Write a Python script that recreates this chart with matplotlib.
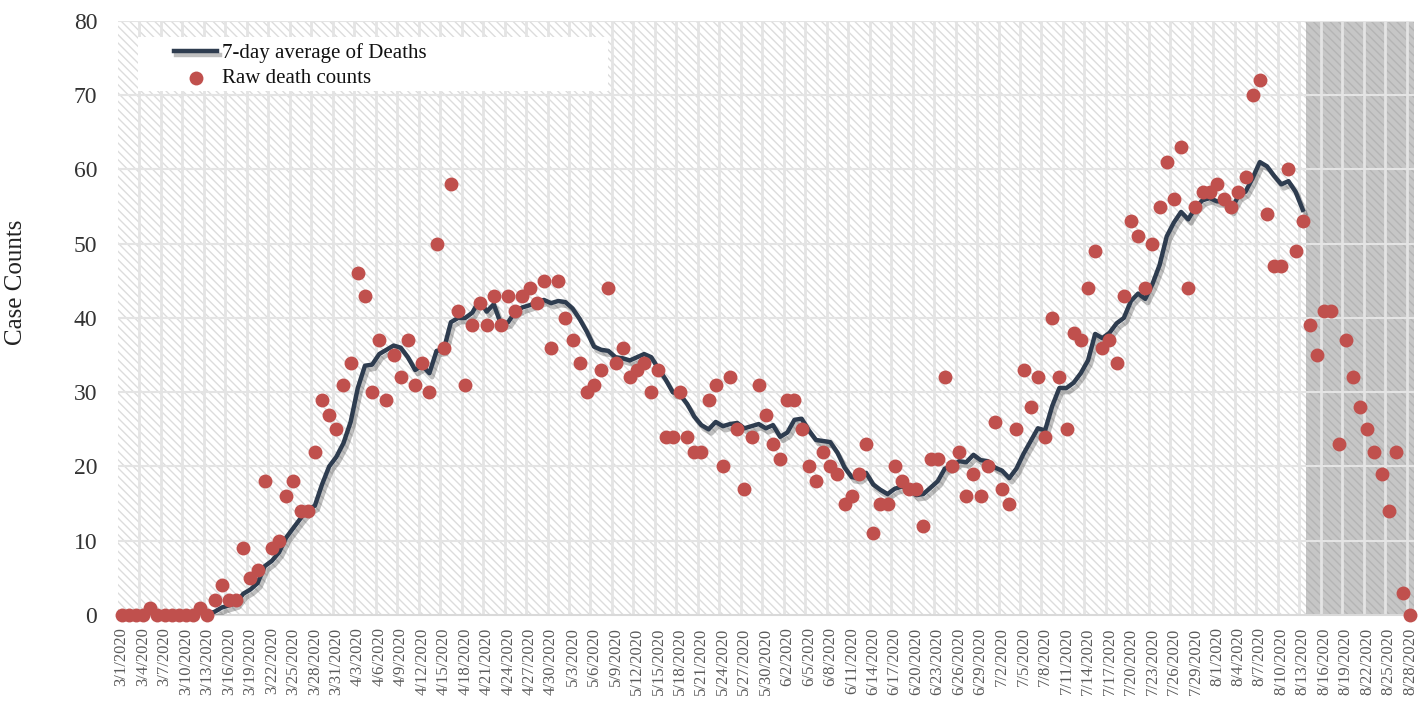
import numpy as np
import pandas as pd
import matplotlib
matplotlib.use("Agg")
import matplotlib.pyplot as plt
import matplotlib.patheffects as pe
from matplotlib.patches import Rectangle

# daily raw deaths, 3/1/2020 .. 8/28/2020
dates = pd.date_range("2020-03-01", "2020-08-28", freq="D")
raw_deaths = [
    0, 0, 0, 0, 1, 0, 0, 0, 0, 0,
    0, 1, 0, 2, 4, 2, 2, 9, 5, 6,
    18, 9, 10, 16, 18, 14, 14, 22, 29, 27,
    25, 31, 34, 46, 43, 30, 37, 29, 35, 32,
    37, 31, 34, 30, 50, 36, 58, 41, 31, 39,
    42, 39, 43, 39, 43, 41, 43, 44, 42, 45,
    36, 45, 40, 37, 34, 30, 31, 33, 44, 34,
    36, 32, 33, 34, 30, 33, 24, 24, 30, 24,
    22, 22, 29, 31, 20, 32, 25, 17, 24, 31,
    27, 23, 21, 29, 29, 25, 20, 18, 22, 20,
    19, 15, 16, 19, 23, 11, 15, 15, 20, 18,
    17, 17, 12, 21, 21, 32, 20, 22, 16, 19,
    16, 20, 26, 17, 15, 25, 33, 28, 32, 24,
    40, 32, 25, 38, 37, 44, 49, 36, 37, 34,
    43, 53, 51, 44, 50, 55, 61, 56, 63, 44,
    55, 57, 57, 58, 56, 55, 57, 59, 70, 72,
    54, 47, 47, 60, 49, 53, 39, 35, 41, 41,
    23, 37, 32, 28, 25, 22, 19, 14, 22, 3,
    0,
]
avg_until = "2020-08-13"       # 7-day average drawn up to this date
shade_from = "2020-08-13"      # grey (incomplete data) band starts after this

days = np.arange(len(dates))
deaths = pd.Series(raw_deaths, index=dates)
avg7 = deaths.rolling(7).mean()
avg7 = avg7[avg7.index <= avg_until]
avg_x = days[:len(avg7)]

tick_days = days[::3]
tick_labels = [f"{d.month}/{d.day}/{d.year}" for d in dates[::3]]

plt.rcParams["font.family"] = ["Liberation Serif", "DejaVu Serif"]
plt.rcParams["hatch.linewidth"] = 1.0

fig = plt.figure(figsize=(14.18, 7.05), dpi=100)
ax = fig.add_axes([0.0832, 0.1277, 0.9138, 0.8425])

xmin, xmax = -0.5, len(dates) - 0.5
ax.set_xlim(xmin, xmax)
ax.set_ylim(0, 80)

# hatched background
ax.add_patch(Rectangle((0, 0), 1, 1, transform=ax.transAxes, facecolor="white",
                       edgecolor="#dcdcdc", hatch="\\\\\\\\", lw=0, zorder=0))
shade_x = list(dates).index(pd.Timestamp(shade_from)) + 0.4
ax.add_patch(Rectangle((shade_x, 0), xmax - shade_x, 80, facecolor="#c6c6c6",
                       edgecolor="#b4b4b4", hatch="\\\\\\\\", lw=0, zorder=0.5))

for gx in tick_days[1:] - 0.5:
    ax.axvline(gx, color="#e4e4e4", lw=2, zorder=1)
for gy in range(10, 81, 10):
    ax.axhline(gy, color="#e4e4e4", lw=1.5, zorder=1)

ax.plot(avg_x, avg7.values, color="#2e3c4f", lw=3.2, zorder=3,
        solid_joinstyle="round",
        path_effects=[pe.SimpleLineShadow(offset=(2, -3), shadow_color="black", alpha=0.25),
                      pe.Normal()],
        label="7-day average of Deaths")
ax.scatter(days, raw_deaths, s=100, color="#c0504d", zorder=4, clip_on=False,
           linewidths=0, label="Raw death counts")

for s in ["top", "right", "left"]:
    ax.spines[s].set_visible(False)
ax.spines["bottom"].set_color("#d9d9d9")
ax.spines["bottom"].set_linewidth(1.5)

ax.set_xticks(tick_days)
ax.set_xticklabels(tick_labels, rotation=90, fontsize=12, color="#595959", va="top")
ax.set_yticks(range(0, 81, 10))
ax.tick_params(axis="x", length=0, pad=9)
ax.tick_params(axis="y", length=0, pad=15, labelsize=17, labelcolor="#333333")

ax.set_ylabel("Case Counts", fontsize=18, color="#222222")
ax.yaxis.set_label_coords(-0.070, 0.56)

# legend on a white box
ax.add_patch(Rectangle((0.0154, 0.882), 0.3627, 0.091, transform=ax.transAxes,
                       facecolor="white", edgecolor="none", zorder=5))
leg = ax.legend(loc="upper left", bbox_to_anchor=(0.043, 0.962), frameon=False,
                fontsize=15, handlelength=2.1, handletextpad=0.2, labelspacing=0.25,
                borderpad=0, borderaxespad=0)
leg.set_zorder(6)
for t in leg.get_texts():
    t.set_color("#111111")

fig.savefig("out.png", dpi=100)
